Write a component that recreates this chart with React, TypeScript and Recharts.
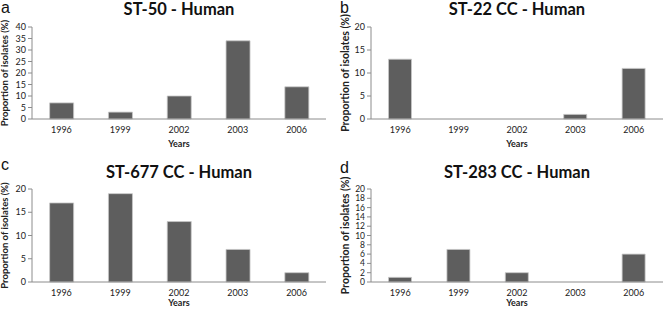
import React from 'react'
import { BarChart, Bar, XAxis, YAxis } from 'recharts'

const years = ['1996', '1999', '2002', '2003', '2006']
const st50 = [7, 3, 10, 34, 14]
const st22 = [13, 0, 0, 1, 11]
const st677 = [17, 19, 13, 7, 2]
const st283 = [1, 7, 2, 0, 6]

const ticksA = [0, 5, 10, 15, 20, 25, 30, 35, 40]
const ticksB = [0, 5, 10, 15, 20]
const ticksC = [0, 5, 10, 15, 20]
const ticksD = [0, 2, 4, 6, 8, 10, 12, 14, 16, 18, 20]
const edges = [0, 1, 2, 3, 4, 5]

const FONT = 'Lato, "Open Sans", sans-serif'
const AXIS = '#8c8c8c'
const X_AXIS_H = 31

interface PanelProps {
  letter: string
  title: string
  values: number[]
  yTicks: number[]
  left: number
  top: number
  plotLeft: number
  plotTop: number
  plotBottom: number
  right: number
  labelX: number
  labelSize: number
  tickSize: number
  yearsOffset: number
  letterTop: number
  titleTop: number
}

function Panel(p: PanelProps) {
  const data = years.map((y, i) => ({ year: y, value: p.values[i], idx: i + 0.5 }))
  const h = p.plotBottom + X_AXIS_H + 1
  return (
    <div style={{ position: 'absolute', left: p.left, top: p.top, width: 332, height: h }}>
      <div style={{ position: 'absolute', left: p.left === 0 ? 1 : 8, top: p.letterTop, fontFamily: 'Liberation Sans, Arial, sans-serif', fontSize: 16, lineHeight: '16px', color: '#111' }}>
        {p.letter}
      </div>
      <div style={{ position: 'absolute', left: p.plotLeft, width: 332 - p.plotLeft - p.right, top: p.titleTop, textAlign: 'center', fontFamily: FONT, fontWeight: 700, fontSize: 16.5, lineHeight: '18px', color: '#111' }}>
        {p.title}
      </div>
      <BarChart
        width={332}
        height={h}
        data={data}
        barCategoryGap="30%"
        margin={{ top: p.plotTop, right: p.right, bottom: 1, left: 0 }}
        style={{ position: 'absolute', left: 0, top: 0 }}
      >
        <XAxis
          dataKey="year"
          height={X_AXIS_H}
          tickLine={false}
          axisLine={{ stroke: AXIS }}
          tick={{ fontSize: 9, fill: '#222', fontFamily: FONT }}
          tickMargin={2}
          interval={0}
          label={{ value: 'Years', position: 'insideBottom', offset: p.yearsOffset, style: { fontSize: 9, fontWeight: 700, fill: '#222', fontFamily: FONT } }}
        />
        <XAxis
          xAxisId="edge"
          type="number"
          dataKey="idx"
          domain={[0, 5]}
          ticks={edges}
          height={0}
          axisLine={false}
          tick={false}
          tickLine={{ stroke: AXIS }}
          tickSize={4}
          orientation="bottom"
        />
        <YAxis
          width={p.plotLeft}
          domain={[p.yTicks[0], p.yTicks[p.yTicks.length - 1]]}
          ticks={p.yTicks}
          interval={0}
          axisLine={{ stroke: AXIS }}
          tickLine={{ stroke: AXIS }}
          tickSize={4}
          tick={{ fontSize: p.tickSize, fill: '#222', fontFamily: FONT }}
          label={{ value: 'Proportion of isolates (%)', angle: -90, position: 'center', dx: p.labelX - p.plotLeft / 2, style: { fontSize: p.labelSize, fontWeight: 700, fill: '#222', fontFamily: FONT } }}
        />
        <Bar dataKey="value" fill="#5e5e5e" stroke="#c8c8c8" strokeWidth={0.8} isAnimationActive={false} />
      </BarChart>
    </div>
  )
}

export default function App() {
  return (
    <div style={{ position: 'absolute', left: 0, top: 0, width: 664, height: 310, overflow: 'hidden', background: '#fff' }}>
      <Panel letter="a" title="ST-50 - Human" values={st50} yTicks={ticksA} left={0} top={0}
        plotLeft={32} plotTop={27} plotBottom={119} right={6} labelX={5} labelSize={9.5} tickSize={9}
        yearsOffset={3} letterTop={0} titleTop={0} />
      <Panel letter="b" title="ST-22 CC - Human" values={st22} yTicks={ticksB} left={332} top={0}
        plotLeft={39} plotTop={27} plotBottom={119} right={1} labelX={13} labelSize={10.5} tickSize={9}
        yearsOffset={3} letterTop={0} titleTop={0} />
      <Panel letter="c" title="ST-677 CC - Human" values={st677} yTicks={ticksC} left={0} top={155}
        plotLeft={32} plotTop={34} plotBottom={127} right={6} labelX={5} labelSize={9.5} tickSize={9}
        yearsOffset={7} letterTop={2} titleTop={8} />
      <Panel letter="d" title="ST-283 CC - Human" values={st283} yTicks={ticksD} left={332} top={155}
        plotLeft={39} plotTop={34} plotBottom={127} right={1} labelX={13} labelSize={10.5} tickSize={8.5}
        yearsOffset={7} letterTop={5} titleTop={8} />
    </div>
  )
}
